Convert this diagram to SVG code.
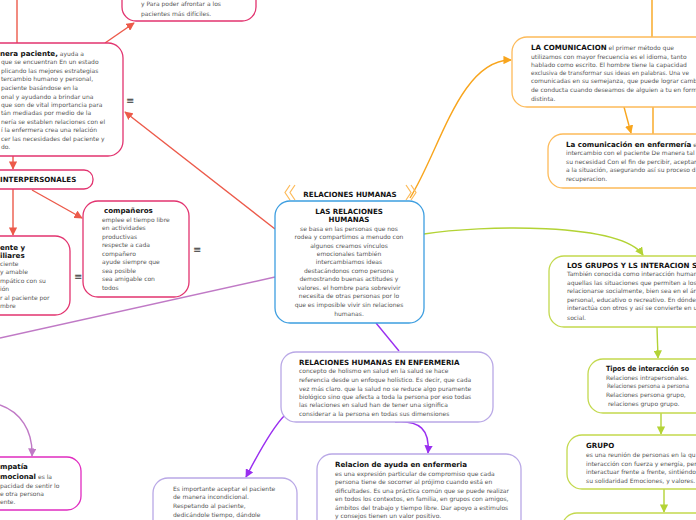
<svg xmlns="http://www.w3.org/2000/svg" width="696" height="520" viewBox="0 0 696 520">
<style>
.b{fill:#fff;stroke-width:1.3}
.pk{stroke:#e2336f}
.bl{stroke:#3d9ee0}
.or{stroke:#fdbb5a}
.gr{stroke:#c3d94e}
.lv{stroke:#b9a8e6}
.mg{stroke:#e02cc0}
text{font-family:"DejaVu Sans","Liberation Sans",sans-serif;font-size:6px;fill:#555}
.t{font-weight:bold;font-size:7.1px;fill:#111}
.m{text-anchor:middle}
.c{fill:none;stroke-width:1.4}
.ic{font-size:10px;fill:#333}
</style>
<defs>
<marker id="aR" viewBox="0 0 10 10" refX="9" refY="5" markerWidth="6" markerHeight="6" orient="auto"><path d="M0,0L10,5L0,10z" fill="#ec5a4a"/></marker>
<marker id="aO" viewBox="0 0 10 10" refX="9" refY="5" markerWidth="6" markerHeight="6" orient="auto"><path d="M0,0L10,5L0,10z" fill="#f8a51d"/></marker>
<marker id="aG" viewBox="0 0 10 10" refX="9" refY="5" markerWidth="6" markerHeight="6" orient="auto"><path d="M0,0L10,5L0,10z" fill="#b3d335"/></marker>
<marker id="aV" viewBox="0 0 10 10" refX="9" refY="5" markerWidth="6" markerHeight="6" orient="auto"><path d="M0,0L10,5L0,10z" fill="#9a2ff0"/></marker>
<marker id="aP" viewBox="0 0 10 10" refX="9" refY="5" markerWidth="6" markerHeight="6" orient="auto"><path d="M0,0L10,5L0,10z" fill="#c07ac6"/></marker>
</defs>
<rect width="696" height="520" fill="#fff"/>

<g id="connectors">
<path class="c" d="M17,0V43" stroke="#ec5a4a"/>
<path class="c" d="M105,43L134,23" stroke="#ec5a4a" marker-end="url(#aR)"/>
<path class="c" d="M275,229L125,112" stroke="#ec5a4a" marker-end="url(#aR)"/>
<path class="c" d="M13,156V169" stroke="#ec5a4a" marker-end="url(#aR)"/>
<path class="c" d="M13,189V235" stroke="#ec5a4a" marker-end="url(#aR)"/>
<path class="c" d="M32,190L82,218" stroke="#ec5a4a" marker-end="url(#aR)"/>
<path class="c" d="M275,277L0,338" stroke="#c07ac6"/>
<path class="c" d="M0,405C20,412 33,430 32,456" stroke="#c07ac6" marker-end="url(#aP)"/>
<path class="c" d="M410,198C440,150 460,60 511,60" stroke="#f8a51d" marker-end="url(#aO)"/>
<path class="c" d="M652,0V37M653,107V135" stroke="#f8a51d"/>
<path class="c" d="M624,107L631,133" stroke="#f8a51d" marker-end="url(#aO)"/>
<path class="c" d="M424,234C480,225 620,222 643,255" stroke="#b3d335" marker-end="url(#aG)"/>
<path class="c" d="M657,327L658,358" stroke="#b3d335" marker-end="url(#aG)"/>
<path class="c" d="M661,413V434" stroke="#b3d335" marker-end="url(#aG)"/>
<path class="c" d="M664,489V512" stroke="#b3d335" marker-end="url(#aG)"/>
<path class="c" d="M376,323L399,351" stroke="#9a2ff0"/>
<path class="c" d="M395,422C420,420 430,430 428,453" stroke="#9a2ff0" marker-end="url(#aV)"/>
<path class="c" d="M285,415C270,430 255,460 246,477" stroke="#9a2ff0" marker-end="url(#aV)"/>
</g>

<g id="n-afrontar">
<rect class="b pk" x="122" y="-20" width="134" height="41" rx="14"/>
<text x="141" y="6">y Para poder afrontar a los</text>
<text x="141" y="16">pacientes más difíciles.</text>
</g>

<g id="n-enfermera">
<rect class="b pk" x="-20" y="43" width="143" height="113" rx="15"/>
<text x="0" y="56"><tspan class="t">nera paciente,</tspan> ayuda a</text>
<text x="1" y="64">que se encuentran En un estado</text>
<text x="1" y="73">plicando las mejores estrategias</text>
<text x="1" y="81">tercambio humano y personal,</text>
<text x="1" y="90">paciente basándose en la</text>
<text x="1" y="99">onal y ayudando a brindar una</text>
<text x="1" y="107">que son de vital importancia para</text>
<text x="1" y="115">tán mediadas por medio de la</text>
<text x="1" y="124">nería se establen relaciones con el</text>
<text x="1" y="132">í la enfermera crea una relación</text>
<text x="1" y="141">cer las necesidades del paciente y</text>
<text x="1" y="149">do.</text>
<text class="ic" x="126" y="104">≡</text>
</g>

<g id="n-interpersonales">
<rect class="b pk" x="-20" y="170" width="113" height="19" rx="9"/>
<text class="t" x="0" y="182">INTERPERSONALES</text>
</g>

<g id="n-companeros">
<rect class="b pk" x="83" y="201" width="106" height="96" rx="15"/>
<text class="t" x="104" y="213">compañeros</text>
<text x="102" y="222">emplee el tiempo libre</text>
<text x="102" y="230">en actividades</text>
<text x="102" y="239">productivas</text>
<text x="102" y="247">respecte a cada</text>
<text x="102" y="256">compañero</text>
<text x="102" y="264">ayude siempre que</text>
<text x="102" y="273">sea posible</text>
<text x="102" y="281">sea amigable con</text>
<text x="102" y="290">todos</text>
<text class="ic" x="193" y="253">≡</text>
</g>

<g id="n-paciente-familiares">
<rect class="b pk" x="-20" y="236" width="90" height="79" rx="15"/>
<text class="t" x="0" y="250">ente y</text>
<text class="t" x="0" y="258">iliares</text>
<text x="0" y="266">ciente</text>
<text x="0" y="274">y amable</text>
<text x="0" y="283">mpático con su</text>
<text x="0" y="291">ión</text>
<text x="0" y="300">r al paciente por</text>
<text x="0" y="308">mbre</text>
<text class="ic" x="74" y="280">≡</text>
</g>

<g id="n-empatia">
<rect class="b mg" x="-20" y="457" width="101" height="53" rx="14"/>
<text class="t" x="0" y="469">mpatía</text>
<text x="0" y="479"><tspan class="t">mocional</tspan> es la</text>
<text x="0" y="488">pacidad de sentir lo</text>
<text x="0" y="496">e otra persona</text>
<text x="0" y="504">ente.</text>
</g>

<g id="n-central">
<path d="M290,185L285,192.5L290,200M295,185L290,192.5L295,200M406,185L411,192.5L406,200M411,185L416,192.5L411,200" fill="none" stroke="#fdbb5a" stroke-width="1.2"/>
<text class="t m" x="350" y="197">RELACIONES HUMANAS</text>
<rect class="b bl" x="275" y="201" width="149" height="122" rx="15"/>
<text class="t m" x="349" y="214">LAS RELACIONES</text>
<text class="t m" x="349" y="222">HUMANAS</text>
<text class="m" x="349" y="231">se basa en las personas que nos</text>
<text class="m" x="349" y="239">rodea y compartimos a menudo con</text>
<text class="m" x="349" y="248">algunos creamos vínculos</text>
<text class="m" x="349" y="256">emocionales también</text>
<text class="m" x="349" y="264">intercambiamos ideas</text>
<text class="m" x="349" y="273">destacándonos como persona</text>
<text class="m" x="349" y="281">demostrando buenas actitudes y</text>
<text class="m" x="349" y="290">valores. el hombre para sobrevivir</text>
<text class="m" x="349" y="298">necesita de otras personas por lo</text>
<text class="m" x="349" y="307">que es imposible vivir sin relaciones</text>
<text class="m" x="349" y="316">humanas.</text>
</g>

<g id="n-comunicacion">
<rect class="b or" x="512" y="37" width="210" height="70" rx="15"/>
<text x="531" y="50"><tspan class="t">LA COMUNICACION</tspan> el primer método que</text>
<text x="531" y="59">utilizamos con mayor frecuencia es el idioma, tanto</text>
<text x="531" y="67">hablado como escrito. El hombre tiene la capacidad</text>
<text x="531" y="75" textLength="158" lengthAdjust="spacingAndGlyphs">exclusiva de transformar sus ideas en palabras. Una ve</text>
<text x="531" y="83">comunicadas en su semejanza, que puede lograr camb</text>
<text x="531" y="92">de conducta cuando deseamos de alguien a tu en form</text>
<text x="531" y="101">distinta.</text>
</g>

<g id="n-com-enfermeria">
<rect class="b or" x="548" y="134" width="170" height="54" rx="15"/>
<text x="566" y="147"><tspan class="t">La comunicación en enfermería</tspan> e</text>
<text x="566" y="155">intercambio con el paciente De manera tal</text>
<text x="566" y="164">su necesidad Con el fin de percibir, aceptar</text>
<text x="566" y="172">a la situación, asegurando así su proceso d</text>
<text x="566" y="181">recuperacion.</text>
</g>

<g id="n-grupos">
<rect class="b gr" x="549" y="256" width="170" height="71" rx="15"/>
<text class="t" x="567" y="268">LOS GRUPOS Y LS INTERACION S</text>
<text x="567" y="276">También conocida como interacción human</text>
<text x="567" y="285">aquellas las situaciones que permiten a los</text>
<text x="567" y="293">relacionarse socialmente, bien sea en el ár</text>
<text x="567" y="302">personal, educativo o recreativo. En dónde</text>
<text x="567" y="310">interactúa con otros y así se convierte en u</text>
<text x="567" y="320">social.</text>
</g>

<g id="n-tipos">
<rect class="b gr" x="588" y="359" width="130" height="54" rx="15"/>
<text class="t" x="606" y="371" textLength="83" lengthAdjust="spacingAndGlyphs">Tipos de interacción so</text>
<text x="606" y="380">Relaciones intrapersonales.</text>
<text x="607" y="388" textLength="82" lengthAdjust="spacingAndGlyphs">Relaciones persona a persona</text>
<text x="606" y="397">Relaciones persona grupo,</text>
<text x="608" y="406">relaciones grupo grupo.</text>
</g>

<g id="n-grupo">
<rect class="b gr" x="567" y="435" width="150" height="54" rx="15"/>
<text class="t" x="586" y="448">GRUPO</text>
<text x="586" y="457">es una reunión de personas en la qu</text>
<text x="586" y="466">interacción con fuerza y energía, per</text>
<text x="586" y="474">interactuar frente a frente, sintiéndo</text>
<text x="586" y="483">su solidaridad Emociones, y valores.</text>
</g>

<g id="n-siguiente">
<rect class="b gr" x="562" y="513" width="160" height="30" rx="15"/>
</g>

<g id="n-rh-enfermeria">
<rect class="b lv" x="281" y="352" width="212" height="70" rx="15"/>
<text class="t" x="299" y="365">RELACIONES HUMANAS EN ENFERMERIA</text>
<text x="299" y="373">concepto de holismo en salud en la salud se hace</text>
<text x="299" y="382">referencia desde un enfoque holístico. Es decir, que cada</text>
<text x="299" y="391">vez más claro. que la salud no se reduce algo puramente</text>
<text x="299" y="399">biológico sino que afecta a toda la persona por eso todas</text>
<text x="299" y="407">las relaciones en salud han de tener una significa</text>
<text x="299" y="416">considerar a la persona en todas sus dimensiones</text>
</g>

<g id="n-ayuda">
<rect class="b lv" x="317" y="454" width="204" height="80" rx="15"/>
<text class="t" x="335" y="467">Relacion de ayuda en enfermeria</text>
<text x="335" y="476">es una expresión particular de compromiso que cada</text>
<text x="335" y="484">persona tiene de socorrer al prójimo cuando está en</text>
<text x="335" y="493">dificultades. Es una práctica común que se puede realizar</text>
<text x="335" y="501">en todos los contextos, en familia, en grupos con amigos,</text>
<text x="335" y="510">ámbitos del trabajo y tiempo libre. Dar apoyo a estimulos</text>
<text x="335" y="518">y consejos tienen un valor positivo.</text>
</g>

<g id="n-aceptar">
<rect class="b lv" x="153" y="478" width="144" height="60" rx="15"/>
<text x="173" y="491">Es importante aceptar el paciente</text>
<text x="173" y="499">de manera incondicional.</text>
<text x="173" y="508">Respetando al paciente,</text>
<text x="173" y="517">dedicándole tiempo, dándole</text>
</g>
</svg>
